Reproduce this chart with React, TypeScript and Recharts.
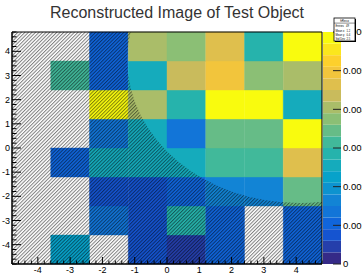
import React from "react";
import {
  ScatterChart,
  XAxis,
  YAxis,
  ReferenceArea,
  BarChart,
  Bar,
} from "recharts";

// bin edges (same on both axes)
const xEdges = [-4.8, -3.6, -2.4, -1.2, 0, 1.2, 2.4, 3.6, 4.8];
const yEdges = [-4.8, -3.6, -2.4, -1.2, 0, 1.2, 2.4, 3.6, 4.8];

// bin contents, one array per y bin, bottom row first (0 = empty bin)
const zRow1 = [0, 0.0022, 0, 0.0008, 0.0004, 0.001, 0, 0.001];
const zRow2 = [0, 0, 0.0013, 0.0008, 0.0028, 0.001, 0, 0.001];
const zRow3 = [0, 0, 0.0008, 0.0008, 0.001, 0.0016, 0.0016, 0.0034];
const zRow4 = [0, 0.001, 0.0025, 0.0025, 0.0025, 0.0031, 0.0031, 0.0046];
const zRow5 = [0, 0, 0.0013, 0.0025, 0.0013, 0.0034, 0.0034, 0.0059];
const zRow6 = [0, 0, 0.0059, 0.004, 0.0028, 0.0059, 0.0059, 0.0025];
const zRow7 = [0, 0.0031, 0.001, 0.0025, 0.0043, 0.0049, 0.0037, 0.004];
const zRow8 = [0, 0, 0.001, 0.004, 0.0037, 0.0046, 0.0028, 0.0059];
const zRows = [zRow1, zRow2, zRow3, zRow4, zRow5, zRow6, zRow7, zRow8];

// axis ticks
const zTicks = [0, 0.001, 0.002, 0.003, 0.004, 0.005, 0.006];
const zMin = 0;
const zMax = 0.006;
const nContours = 20;

// stats box
const statTitle = "hReco";
const statRows = ["Entries   49", "Mean x   1.2", "Mean y   0.4", "Std Dev  2.5"];

// excluded region: everything outside this ellipse is hatched
const hole = { cx: 4.1, cy: 3.65, rx: 5.33, ry: 5.93 };

// kBird palette stops
const birdR = [0.2082, 0.0592, 0.078, 0.0232, 0.1802, 0.5301, 0.8186, 0.9956, 0.9764];
const birdG = [0.1664, 0.3599, 0.5041, 0.6419, 0.7178, 0.7492, 0.7328, 0.7862, 0.9832];
const birdB = [0.5293, 0.8684, 0.8385, 0.7914, 0.6425, 0.4662, 0.3499, 0.1968, 0.0539];

const lo = xEdges[0];
const hi = xEdges[xEdges.length - 1];
const minorTicks = Array.from({ length: 49 }, (_, i) => (i - 24) / 5);

function bird(t: number) {
  const p = Math.max(0, Math.min(1, t)) * 8;
  const i = Math.min(7, Math.floor(p));
  const f = p - i;
  const c = (a: number[]) => Math.round(255 * (a[i] + (a[i + 1] - a[i]) * f));
  return `rgb(${c(birdR)},${c(birdG)},${c(birdB)})`;
}

function levelColor(level: number) {
  return bird(level / (nContours - 1));
}

function valueColor(v: number) {
  const level = Math.min(nContours - 1, Math.floor(((v - zMin) / (zMax - zMin)) * nContours + 1e-9));
  return levelColor(level);
}

const font = "'Liberation Sans', Arial, Helvetica, sans-serif";
const isMajor = (v: number) => Math.abs(v - Math.round(v)) < 1e-6;

const XTick = (props: any) => {
  const { x, y, payload } = props;
  const v = payload.value;
  const major = isMajor(v);
  return (
    <g>
      <line x1={x} x2={x} y1={y} y2={y - (major ? 7 : 3.5)} stroke="#000" strokeWidth={1} />
      {major && (
        <text x={x} y={y + 8.5} textAnchor="middle" fontSize={9} fontFamily={font} fill="#000">
          {Math.round(v)}
        </text>
      )}
    </g>
  );
};

const YTick = (props: any) => {
  const { x, y, payload } = props;
  const v = payload.value;
  const major = isMajor(v);
  return (
    <g>
      <line x1={x} x2={x + (major ? 9 : 4.5)} y1={y} y2={y} stroke="#000" strokeWidth={1} />
      {major && (
        <text x={x - 2} y={y} dy="0.35em" textAnchor="end" fontSize={9} fontFamily={font} fill="#000">
          {Math.round(v)}
        </text>
      )}
    </g>
  );
};

const ZTick = (props: any) => {
  const { x, y, payload } = props;
  const v = payload.value;
  return (
    <g>
      <line x1={x} x2={x - 8} y1={y} y2={y} stroke="#222" strokeWidth={1} />
      <text x={x + 2} y={y} dy="0.35em" textAnchor="start" fontSize={9.5} fontFamily={font} fill="#000">
        {v === 0 ? "0" : v.toFixed(3)}
      </text>
    </g>
  );
};

const HatchShape = (props: any) => {
  const { x, y, width, height } = props;
  const kx = width / (hi - lo);
  const ky = height / (hi - lo);
  const cx = x + (hole.cx - lo) * kx;
  const cy = y + (hi - hole.cy) * ky;
  const rx = hole.rx * kx;
  const ry = hole.ry * ky;
  const d =
    `M${x},${y}h${width}v${height}h${-width}Z ` +
    `M${cx - rx},${cy}a${rx},${ry} 0 1,0 ${2 * rx},0a${rx},${ry} 0 1,0 ${-2 * rx},0Z`;
  return (
    <g>
      <defs>
        <pattern id="hatch" patternUnits="userSpaceOnUse" width={2.5} height={2.5} patternTransform="rotate(45)">
          <rect x={0} y={0} width={1} height={2.5} fill="#000" fillOpacity={0.5} />
        </pattern>
        <clipPath id="frameClip">
          <rect x={x} y={y} width={width} height={height} />
        </clipPath>
      </defs>
      <path d={d} fill="url(#hatch)" fillRule="evenodd" clipPath="url(#frameClip)" />
    </g>
  );
};

const cells: { x1: number; x2: number; y1: number; y2: number; v: number }[] = [];
zRows.forEach((row, j) =>
  row.forEach((v, i) => {
    if (v > 0) cells.push({ x1: xEdges[i], x2: xEdges[i + 1], y1: yEdges[j], y2: yEdges[j + 1], v });
  })
);

const levelKeys = Array.from({ length: nContours }, (_, i) => `l${i}`);
const barRow: any = { name: "z" };
levelKeys.forEach((k) => (barRow[k] = (zMax - zMin) / nContours));
const paletteData = [barRow];

export default function App() {
  return (
    <div style={{ position: "absolute", left: 0, top: 0, width: 362, height: 274, background: "#fff" }}>
      <div style={{ position: "absolute", left: 0, top: 0 }}>
        <ScatterChart width={362} height={274} margin={{ top: 32, right: 40, bottom: 0, left: 0 }}>
          {cells.map((c, k) => (
            <ReferenceArea
              key={k}
              x1={c.x1}
              x2={c.x2}
              y1={c.y1}
              y2={c.y2}
              fill={valueColor(c.v)}
              fillOpacity={1}
              stroke={valueColor(c.v)}
              strokeWidth={0.4}
              ifOverflow="visible"
            />
          ))}
          <ReferenceArea x1={lo} x2={hi} y1={lo} y2={hi} shape={HatchShape} ifOverflow="visible" />
          <ReferenceArea x1={lo} x2={hi} y1={lo} y2={hi} fill="none" stroke="#000" strokeWidth={1} ifOverflow="visible" />
          <XAxis
            type="number"
            dataKey="x"
            domain={[lo, hi]}
            allowDataOverflow
            ticks={minorTicks}
            interval={0}
            tick={XTick}
            tickLine={false}
            tickSize={0}
            tickMargin={0}
            axisLine={{ stroke: "#000" }}
            height={10}
          />
          <YAxis
            type="number"
            dataKey="y"
            domain={[lo, hi]}
            allowDataOverflow
            ticks={minorTicks}
            interval={0}
            tick={YTick}
            tickLine={false}
            tickSize={0}
            tickMargin={0}
            axisLine={{ stroke: "#000" }}
            width={12}
          />
        </ScatterChart>
      </div>
      <div style={{ position: "absolute", left: 323, top: 0 }}>
        <BarChart width={39} height={274} data={paletteData} margin={{ top: 32, right: 0, bottom: 10, left: 0 }} barCategoryGap={0}>
          <XAxis dataKey="name" hide />
          <YAxis
            orientation="right"
            type="number"
            domain={[zMin, zMax]}
            allowDataOverflow
            ticks={zTicks}
            interval={0}
            tick={ZTick}
            tickLine={false}
            tickSize={0}
            tickMargin={0}
            axisLine={false}
            width={21}
          />
          {levelKeys.map((k, i) => (
            <Bar key={k} dataKey={k} stackId="pal" fill={levelColor(i)} isAnimationActive={false} />
          ))}
        </BarChart>
      </div>
      <svg width={362} height={274} style={{ position: "absolute", left: 0, top: 0, pointerEvents: "none" }}>
        <text x={177} y={18.3} textAnchor="middle" fontSize={16} fontFamily={font} fill="#333">
          Reconstructed Image of Test Object
        </text>
        <rect x={335} y={19} width={21} height={23} fill="#000" />
        <rect x={334} y={18} width={21} height={23} fill="#fff" stroke="#000" strokeWidth={0.8} />
        <g transform="translate(334,18) scale(0.3)">
          <line x1={0} x2={70} y1={17} y2={17} stroke="#000" strokeWidth={1.5} />
          <text x={35} y={12} textAnchor="middle" fontSize={10} fontFamily={font}>
            {statTitle}
          </text>
          {statRows.map((s, i) => (
            <text key={s} x={5} y={31 + i * 14} fontSize={9} fontFamily={font} xmlSpace="preserve">
              {s}
            </text>
          ))}
        </g>
      </svg>
    </div>
  );
}
